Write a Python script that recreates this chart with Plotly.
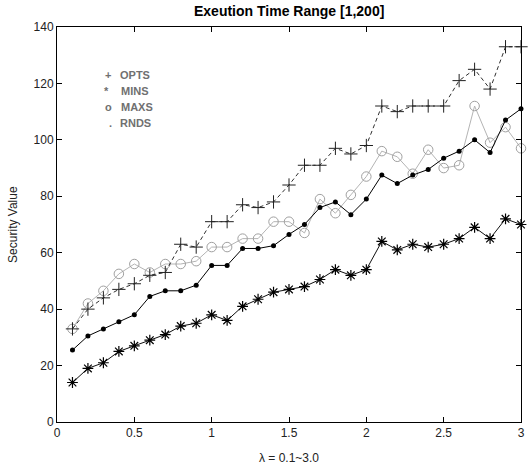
import plotly.graph_objects as go

# ---- data ----
lam = [round(0.1 * i, 1) for i in range(1, 31)]
opts = [33, 40, 44, 47, 49, 52, 53, 63, 62, 71, 71, 77, 76, 78, 84,
        91, 91, 97, 95, 98, 112, 110, 112, 112, 112, 121, 125, 118, 133, 133]
mins = [14, 19, 21, 25, 27, 29, 31, 34, 35, 38, 36, 41, 43.5, 46, 47,
        48, 50.5, 54, 52, 54, 64, 61, 63, 62, 63, 65, 69, 65, 72, 70]
maxs = [33, 42, 46.5, 52.5, 56, 53, 56, 56, 57, 62, 62, 65, 65, 71, 71,
        67, 79, 74, 80.5, 87, 96, 94, 88, 96.5, 90, 91, 112, 99, 104.5, 97]
rnds = [25.5, 30.5, 33, 35.5, 38, 44.5, 46.5, 46.5, 48.5, 55.5, 55.5, 61.5, 61.5, 62.5, 66.5,
        70, 76, 78, 73.5, 79, 87.5, 84.5, 87.5, 89.5, 93.5, 96, 100, 95.5, 107, 111]

legend_symbols = ["+", "*", "o", "."]
legend_labels = ["OPTS", "MINS", "MAXS", "RNDS"]

x_ticks = [0, 0.5, 1, 1.5, 2, 2.5, 3]
x_tick_text = ["0", "0.5", "1", "1.5", "2", "2.5", "3"]
y_ticks = [0, 20, 40, 60, 80, 100, 120, 140]

W, H = 531, 468
L, R, T, B = 57, 6, 27, 46

fig = go.Figure()

fig.add_trace(go.Scatter(
    x=lam, y=maxs, mode="lines+markers", cliponaxis=False,
    line=dict(color="#b4b4b4", width=1),
    marker=dict(symbol="circle-open", size=9.5, color="#a0a0a0", line=dict(width=1)),
))
fig.add_trace(go.Scatter(
    x=lam, y=opts, mode="lines+markers", cliponaxis=False,
    line=dict(color="#303030", width=1, dash="4px,3px"),
    marker=dict(symbol="cross-thin-open", size=9.5, color="#202020", line=dict(width=1, color="#202020")),
))
fig.add_trace(go.Scatter(
    x=lam, y=rnds, mode="lines+markers", cliponaxis=False,
    line=dict(color="#000000", width=1),
    marker=dict(symbol="circle", size=5, color="#000000"),
))
fig.add_trace(go.Scatter(
    x=lam, y=mins, mode="lines+markers", cliponaxis=False,
    line=dict(color="#101010", width=1),
    marker=dict(symbol="asterisk-open", size=9, color="#000000", line=dict(width=1.2, color="#000000")),
))

pw = W - L - R
ph = H - T - B


def px_x(p):
    return (p - L) / pw


def px_y(p):
    return 1 - (p - T) / ph


annotations = []
rows_y = [75, 91, 107, 123]
sym_x = [108, 107, 109, 111]
lab_x = [119, 120, 120, 119]
for i in range(4):
    annotations.append(dict(
        x=px_x(sym_x[i]), y=px_y(rows_y[i]), xref="paper", yref="paper",
        text="<b>" + legend_symbols[i] + "</b>", showarrow=False,
        xanchor="center", yanchor="middle",
        font=dict(family="Liberation Sans, Arial", size=11, color="#707070"),
    ))
    annotations.append(dict(
        x=px_x(lab_x[i]), y=px_y(rows_y[i]), xref="paper", yref="paper",
        text="<b>" + legend_labels[i] + "</b>", showarrow=False,
        xanchor="left", yanchor="middle",
        font=dict(family="Liberation Sans, Arial", size=11, color="#707070"),
    ))

# title and axis titles
annotations.append(dict(
    x=0.5, y=px_y(11), xref="paper", yref="paper", text="<b>Exeution Time Range [1,200]</b>",
    showarrow=False, xanchor="center", yanchor="middle",
    font=dict(family="Liberation Sans, Arial", size=14, color="#000000"),
))
annotations.append(dict(
    x=0.5, y=px_y(458), xref="paper", yref="paper", text="λ = 0.1~3.0",
    showarrow=False, xanchor="center", yanchor="middle",
    font=dict(family="Liberation Sans, Arial", size=12, color="#222222"),
))
annotations.append(dict(
    x=px_x(12), y=0.5, xref="paper", yref="paper", text="Security Value",
    showarrow=False, xanchor="center", yanchor="middle", textangle=-90,
    font=dict(family="Liberation Sans, Arial", size=12, color="#222222"),
))

fig.update_layout(
    width=W, height=H,
    margin=dict(l=L, r=R, t=T, b=B, pad=0),
    paper_bgcolor="white", plot_bgcolor="white",
    showlegend=False,
    annotations=annotations,
    font=dict(family="Liberation Sans, Arial", size=12, color="#222222"),
)
fig.update_xaxes(
    range=[0, 3], tickvals=x_ticks, ticktext=x_tick_text,
    ticks="inside", ticklen=5, tickcolor="#000", showline=True, linecolor="#000", linewidth=1,
    mirror="ticks", showgrid=False, zeroline=False,
    tickfont=dict(size=12, color="#222222"),
)
fig.update_yaxes(
    range=[0, 140], tickvals=y_ticks,
    ticks="inside", ticklen=5, tickcolor="#000", showline=True, linecolor="#000", linewidth=1,
    mirror="ticks", showgrid=False, zeroline=False,
    tickfont=dict(size=12, color="#222222"),
)

fig.write_html("out.html")
